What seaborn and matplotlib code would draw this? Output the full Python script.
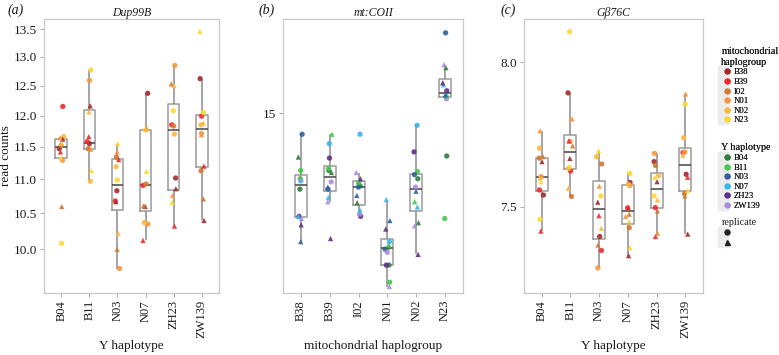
import numpy as np
import pandas as pd
import matplotlib
matplotlib.use("Agg")
import matplotlib.pyplot as plt
import seaborn as sns
from matplotlib.lines import Line2D
from matplotlib.legend_handler import HandlerTuple
from matplotlib.ticker import FixedLocator, FixedFormatter, NullLocator

# ---------------- data ----------------
y_haplotypes = ["B04", "B11", "N03", "N07", "ZH23", "ZW139"]
mito_haplogroups = ["B38", "B39", "I02", "N01", "N02", "N23"]
replicates = ["1", "2"]

mito_colors = ["#a3282b", "#ee2a2e", "#cf7a35", "#f6953b", "#f9b83e", "#fdd733"]
y_colors = ["#2f7d3c", "#46c84a", "#305f9f", "#36b5ec", "#5d2e8c", "#a98ce0"]

# Panel (a) Dup99B: values per Y haplotype, ordered mito (B38..N23) x replicate (1, 2)
dup_B04 = [11.47, 11.62, 12.15, 11.42, 11.52, 10.60, 11.29, 11.64, 11.66, 11.55, 10.08, 11.33]
dup_B11 = [11.55, 12.16, 11.58, 11.66, 11.47, 11.48, 12.59, 11.46, 10.97, 12.06, 12.77, 11.13]
dup_N03 = [10.83, 10.67, 10.68, 11.30, 11.34, 10.00, 9.74, 11.42, 11.19, 10.22, 10.99, 11.55]
dup_N07 = [12.37, 10.60, 10.91, 10.12, 10.93, 10.61, 10.35, 11.79, 10.37, 11.78, 11.77, 11.12]
dup_ZH23 = [11.02, 10.86, 11.85, 10.32, 11.83, 12.53, 12.85, 10.76, 11.70, 12.50, 12.08, 10.66]
dup_ZW139 = [12.62, 10.40, 11.99, 11.20, 11.13, 10.71, 11.71, 11.69, 11.85, 11.88, 12.05, 13.46]

# Panel (b) mt:COII: values per mito haplogroup, ordered Y (B04..ZW139) x replicate (1, 2)
coii_B38 = [14.63, 14.785, 14.72, 14.69, 14.896, 14.38, 14.67, 14.50, 14.50, 14.46, 14.68, 14.49]
coii_B39 = [14.72, 14.71, 14.73, 14.896, 14.63, 14.64, 14.85, 14.59, 14.78, 14.395, 14.665, 14.57]
coii_I02 = [14.645, 14.565, 14.66, 14.665, 14.64, 14.60, 14.896, 14.53, 14.50, 14.68, 14.51, 14.71]
coii_N01 = [14.27, 14.355, 14.19, 14.365, 14.345, 14.48, 14.38, 14.58, 14.27, 14.44, 14.33, 14.17]
coii_N02 = [14.68, 14.47, 14.715, 14.57, 14.70, 14.62, 14.94, 14.545, 14.81, 14.32, 14.64, 14.455]
coii_N23 = [14.79, 15.225, 14.49, 15.085, 15.40, 15.09, 15.08, 15.14, 15.11, 15.15, 15.07, 15.24]

# Panel (c) Gbeta76C: values per Y haplotype, ordered mito x replicate
gb_B04 = [7.540, 7.653, 7.557, 7.420, 7.665, 7.670, 7.602, 7.759, 7.699, 7.598, 7.459, 7.585]
gb_B11 = [7.891, 7.664, 7.621, 7.724, 7.535, 7.707, 7.722, 7.800, 7.630, 7.563, 8.109, 7.638]
gb_N03 = [7.402, 7.516, 7.356, 7.471, 7.645, 7.374, 7.299, 7.570, 7.670, 7.429, 7.537, 7.690]
gb_N07 = [7.582, 7.339, 7.497, 7.498, 7.431, 7.476, 7.572, 7.468, 7.576, 7.449, 7.613, 7.365]
gb_ZH23 = [7.653, 7.585, 7.498, 7.402, 7.640, 7.487, 7.681, 7.413, 7.605, 7.524, 7.537, 7.600]
gb_ZW139 = [7.610, 7.410, 7.684, 7.600, 7.545, 7.537, 7.686, 7.887, 7.735, 7.675, 7.851, 7.555]

dup_ticks = [10.0, 10.5, 11.0, 11.5, 12.0, 12.5, 13.0, 13.5]
dup_ticklabels = ["10.0", "10.5", "11.0", "11.5", "12.0", "12.5", "13.0", "13.5"]
coii_ticks = [15]
coii_ticklabels = ["15"]
gb_ticks = [7.5, 8.0]
gb_ticklabels = ["7.5", "8.0"]


def long_df(groups, value_lists, hue_levels):
    rows = []
    for g, vals in zip(groups, value_lists):
        k = 0
        for h in hue_levels:
            for r in replicates:
                rows.append((g, h, r, vals[k]))
                k += 1
    return pd.DataFrame(rows, columns=["group", "hue", "replicate", "value"])


df_a = long_df(y_haplotypes, [dup_B04, dup_B11, dup_N03, dup_N07, dup_ZH23, dup_ZW139], mito_haplogroups)
df_b = long_df(mito_haplogroups, [coii_B38, coii_B39, coii_I02, coii_N01, coii_N02, coii_N23], y_haplotypes)
df_c = long_df(y_haplotypes, [gb_B04, gb_B11, gb_N03, gb_N07, gb_ZH23, gb_ZW139], mito_haplogroups)

# ---------------- style ----------------
sns.set_theme(style="white")
plt.rcParams["font.family"] = ["Liberation Serif", "DejaVu Serif"]

fig = plt.figure(figsize=(7.79, 3.55), dpi=100)
W, H = 779.0, 355.0


def axes_px(l, r, t, b):
    return fig.add_axes([l / W, (H - b) / H, (r - l) / W, (b - t) / H])


ax_a = axes_px(44, 219, 19, 293)
ax_b = axes_px(283, 463, 19, 293)
ax_c = axes_px(524, 703, 19, 293)

np.random.seed(7)


def draw_panel(ax, df, order, hue_order, palette, ylim, ticks, ticklabels,
               title, letter, letter_x, xlabel, ylabel):
    ax.set_yscale("log")
    sns.boxplot(data=df, x="group", y="value", order=order, ax=ax,
                fill=False, color="#9a9a9a", width=0.42, linewidth=1.1,
                showfliers=False, showcaps=False,
                medianprops=dict(color="#444444", linewidth=1.1),
                whiskerprops=dict(color="#8c8c8c", linewidth=1.1))
    for rep, mk in zip(replicates, ["o", "^"]):
        sub = df[df["replicate"] == rep]
        sns.stripplot(data=sub, x="group", y="value", hue="hue", order=order,
                      hue_order=hue_order, palette=palette, marker=mk, size=3.8,
                      jitter=0.09, alpha=0.9, linewidth=0, ax=ax, legend=False,
                      zorder=3)
    ax.set_xlim(-0.62, len(order) - 0.38)
    ax.set_ylim(*ylim)
    ax.yaxis.set_major_locator(FixedLocator(ticks))
    ax.yaxis.set_major_formatter(FixedFormatter(ticklabels))
    ax.yaxis.set_minor_locator(NullLocator())
    for s in ax.spines.values():
        s.set_color("#c8c8c8")
        s.set_linewidth(0.9)
        s.set_visible(True)
    ax.tick_params(axis="both", which="major", length=3, width=0.6,
                   color="#9a9a9a", labelcolor="#1a1a1a",
                   left=True, bottom=True, pad=2)
    ax.tick_params(axis="y", labelsize=9.5)
    ax.tick_params(axis="x", labelsize=9, labelrotation=90)
    ax.set_xlabel(xlabel, fontsize=9.5, color="#1a1a1a")
    ax.xaxis.set_label_coords(0.5, -(340.5 - 293) / 274)
    ax.xaxis.label.set_va("top")
    ax.set_ylabel(ylabel, fontsize=9.5, color="#1a1a1a", labelpad=1)
    ax.set_title(title, fontsize=8.5, style="italic", pad=2.5, color="#1a1a1a")
    fig.text(letter_x / W, 1 - 10.5 / H, letter, fontsize=10,
             style="italic", ha="center", va="center", color="#1a1a1a")
    ax.grid(False)


draw_panel(ax_a, df_a, y_haplotypes, mito_haplogroups, mito_colors,
           (9.42, 13.69), dup_ticks, dup_ticklabels,
           "Dup99B", "(a)", 16, "Y haplotype", "read counts")
draw_panel(ax_b, df_b, mito_haplogroups, y_haplotypes, y_colors,
           (14.14, 15.47), coii_ticks, coii_ticklabels,
           "mt:COII", "(b)", 267, "mitochondrial haplogroup", "")
draw_panel(ax_c, df_c, y_haplotypes, mito_haplogroups, mito_colors,
           (7.218, 8.155), gb_ticks, gb_ticklabels,
           "G\u03b276C", "(c)", 508, "Y haplotype", "")

# ---------------- legends ----------------
def key(color, marker="o"):
    bg = Line2D([], [], ls="", marker="s", markersize=7, color="#ececec")
    fg = Line2D([], [], ls="", marker=marker, markersize=3.6, color=color)
    return (bg, fg)


def make_legend(handles, labels, title, top_px):
    leg = fig.legend(handles, labels, title=title, loc="upper left",
                     bbox_to_anchor=(717 / W, 1 - top_px / H), frameon=False,
                     fontsize=6.3, title_fontsize=7.3, handlelength=0.9,
                     handletextpad=0.5, labelspacing=0.17, borderpad=0.0,
                     handler_map={tuple: HandlerTuple(ndivide=None, pad=0)})
    leg._legend_box.align = "left"
    for t in leg.get_texts():
        t.set_color("#1a1a1a")
    leg.get_title().set_color("#1a1a1a")
    return leg


l1 = make_legend([key(c) for c in mito_colors], mito_haplogroups,
                 "mitochondrial\nhaplogroup", 43)
fig.add_artist(l1)
l2 = make_legend([key(c) for c in y_colors], y_haplotypes, "Y haplotype", 139)
fig.add_artist(l2)
l3 = make_legend([key("#222222", "o"), key("#222222", "^")], ["", ""],
                 "replicate", 214)

fig.savefig("out.png", dpi=100)
